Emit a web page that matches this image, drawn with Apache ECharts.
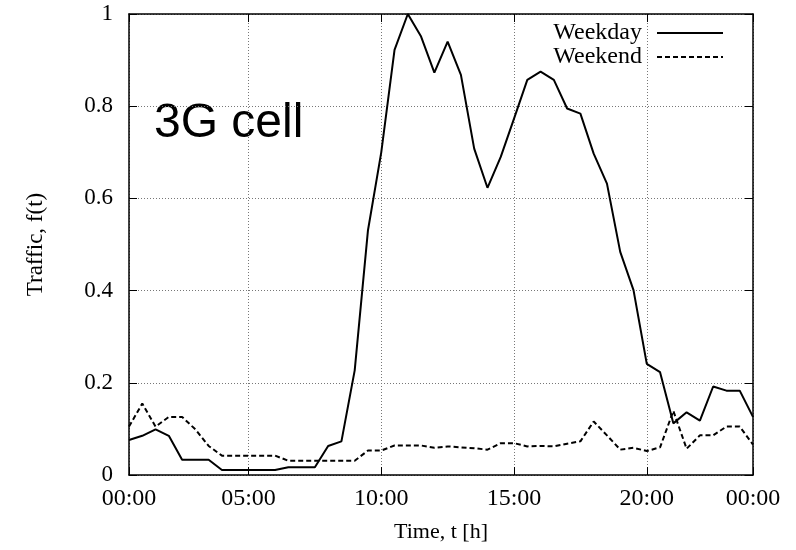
<!DOCTYPE html>
<html>
<head>
<meta charset="utf-8">
<script src="https://cdn.jsdelivr.net/npm/echarts@6/dist/echarts.min.js"></script>
<style>
  html, body { margin: 0; padding: 0; background: #fff; }
  #chart { width: 796px; height: 550px; }
</style>
</head>
<body>
<div id="chart"></div>
<script>
// half-hour slots over one day
const slots = [1, 2, 3, 4, 5, 6, 7, 8, 9, 10, 11, 12, 13, 14, 15, 16,
  17, 18, 19, 20, 21, 22, 23, 24, 25, 26, 27, 28, 29, 30, 31, 32,
  33, 34, 35, 36, 37, 38, 39, 40, 41, 42, 43, 44, 45, 46, 47, 48];

// where the time labels sit (slot index) and what they read
const tickIdx = [0, 9, 19, 29, 39, 47];
const tickLabels = ['00:00', '05:00', '10:00', '15:00', '20:00', '00:00'];

const weekday = [0.076, 0.085, 0.099, 0.085, 0.033, 0.033, 0.033, 0.011, 0.011, 0.011,
  0.011, 0.011, 0.017, 0.017, 0.017, 0.063, 0.073, 0.227, 0.531, 0.70,
  0.922, 1.0, 0.951, 0.873, 0.94, 0.868, 0.708, 0.623, 0.69, 0.773,
  0.857, 0.875, 0.857, 0.795, 0.784, 0.697, 0.632, 0.484, 0.401, 0.241,
  0.223, 0.112, 0.136, 0.118, 0.192, 0.183, 0.183, 0.126];

const weekend = [0.105, 0.155, 0.105, 0.126, 0.126, 0.099, 0.063, 0.042, 0.042, 0.042,
  0.042, 0.042, 0.031, 0.031, 0.031, 0.031, 0.031, 0.031, 0.053, 0.053,
  0.064, 0.064, 0.064, 0.059, 0.062, 0.060, 0.058, 0.055, 0.069, 0.069,
  0.062, 0.063, 0.062, 0.068, 0.073, 0.116, 0.086, 0.055, 0.059, 0.052,
  0.060, 0.139, 0.057, 0.086, 0.086, 0.105, 0.105, 0.066];

const serif = '"Liberation Serif", "DejaVu Serif", serif';
const showTick = (i) => tickIdx.includes(i);
const gridLine = { show: true, lineStyle: { color: '#777', width: 1, type: [1, 2] } };
const frame = { show: true, onZero: false, lineStyle: { color: '#000', width: 1.5 } };

const chart = echarts.init(document.getElementById('chart'));

chart.setOption({
  animation: false,
  backgroundColor: '#fff',
  grid: { left: 129, right: 43, top: 14, bottom: 75 },
  legend: {
    orient: 'vertical',
    right: 67,
    top: 16,
    align: 'right',
    itemWidth: 66,
    itemHeight: 12,
    itemGap: 0,
    itemStyle: { opacity: 0 },
    textStyle: { fontFamily: serif, fontSize: 24, color: '#000', padding: [0, 10, 0, 0] },
    data: ['Weekday', 'Weekend']
  },
  graphic: [{
    type: 'text',
    left: 154,
    top: 100,
    style: {
      text: '3G cell',
      fontFamily: '"Liberation Sans", Arial, sans-serif',
      fontSize: 48,
      fill: '#000'
    }
  }],
  xAxis: [{
    type: 'category',
    data: slots,
    boundaryGap: false,
    name: 'Time, t [h]',
    nameLocation: 'middle',
    nameGap: 46,
    nameTextStyle: { fontFamily: serif, fontSize: 22, color: '#000' },
    axisLine: frame,
    axisTick: { show: true, inside: true, length: 8, interval: showTick, lineStyle: { color: '#000' } },
    axisLabel: {
      interval: showTick,
      margin: 12,
      fontFamily: serif,
      fontSize: 24,
      color: '#000',
      formatter: (v, i) => tickLabels[tickIdx.indexOf(i)]
    },
    splitLine: Object.assign({ interval: showTick }, gridLine)
  }, {
    type: 'category',
    data: slots,
    boundaryGap: false,
    position: 'top',
    axisLine: frame,
    axisTick: { show: true, inside: true, length: 8, interval: showTick, lineStyle: { color: '#000' } },
    axisLabel: { show: false },
    splitLine: { show: false }
  }],
  yAxis: [{
    type: 'value',
    min: 0,
    max: 1,
    interval: 0.2,
    name: 'Traffic, f(t)',
    nameLocation: 'middle',
    nameGap: 82,
    nameTextStyle: { fontFamily: serif, fontSize: 23, color: '#000' },
    axisLine: frame,
    axisTick: { show: true, inside: true, length: 8, lineStyle: { color: '#000' } },
    axisLabel: { margin: 16, fontFamily: serif, fontSize: 23, color: '#000' },
    splitLine: gridLine
  }, {
    type: 'value',
    min: 0,
    max: 1,
    interval: 0.2,
    position: 'right',
    axisLine: frame,
    axisTick: { show: true, inside: true, length: 8, lineStyle: { color: '#000' } },
    axisLabel: { show: false },
    splitLine: { show: false }
  }],
  series: [{
    name: 'Weekday',
    type: 'line',
    data: weekday,
    symbol: 'none',
    lineStyle: { color: '#000', width: 2 },
    itemStyle: { color: '#000' }
  }, {
    name: 'Weekend',
    type: 'line',
    data: weekend,
    symbol: 'none',
    lineStyle: { color: '#000', width: 2, type: [5, 3] },
    itemStyle: { color: '#000' }
  }]
});
</script>
</body>
</html>
